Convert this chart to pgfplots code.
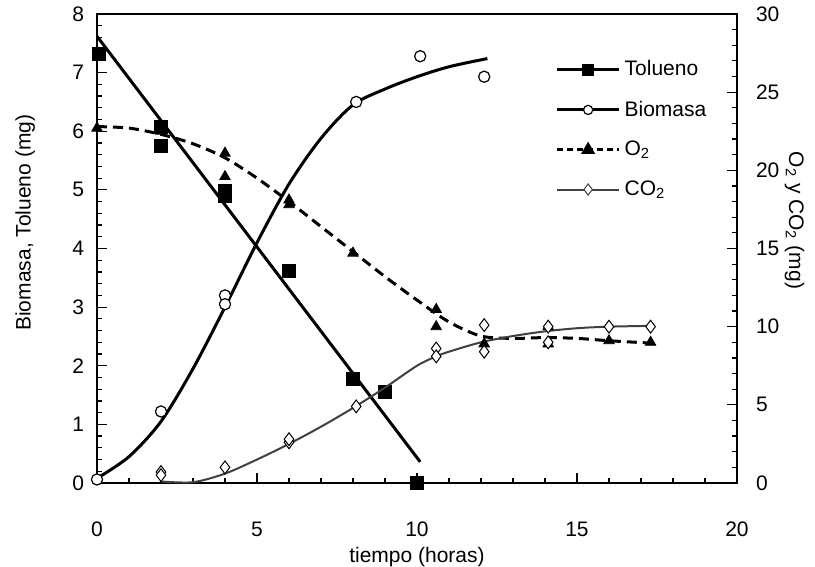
\documentclass[border=0pt]{standalone}
\usepackage{fontspec}
\setmainfont{Liberation Sans}
\usepackage{pgfplots}
\pgfplotsset{compat=1.18}
\begin{document}
\begin{tikzpicture}
\useasboundingbox (0,0) rectangle (407.5pt,283.5pt);
\pgfplotsset{
  every axis/.append style={font=\fontsize{10.5}{12}\selectfont},
  /pgf/number format/assume math mode=true,
  major tick length=5pt, minor tick length=2.5pt,
}
\begin{axis}[
  at={(48.5pt,42pt)}, anchor=south west,
  scale only axis, width=320pt, height=234.5pt,
  xmin=0, xmax=20, ymin=0, ymax=8,
  xtick={0,5,...,20}, minor x tick num=4,
  ytick={0,...,8}, minor y tick num=4,
  xtick pos=left, ytick pos=left,
  tick style={black, line width=0.6pt},
  xticklabel style={yshift=-16pt},
  yticklabel style={xshift=-3pt},
  ylabel={Biomasa, Tolueno (mg)},
  ylabel style={at={(axis description cs:-0.112,0.555)}, anchor=center},
  xlabel={tiempo (horas)},
  xlabel style={at={(axis description cs:0.5,-0.159)}, anchor=center},
  axis line style={line width=0.8pt},
  clip=false,
]
% Tolueno
\addplot[line width=1.5pt, black] coordinates {(0,7.62) (10.1,0.36)};
\addplot[only marks, mark=square*, mark size=3.2pt, black] coordinates {
(0.05,7.32) (2,6.07) (2,5.75) (4,4.98) (4,4.9) (6,3.62) (8,1.78) (9,1.55) (10,0)};
% Biomasa
\addplot[line width=1.5pt, black, smooth] coordinates {
(0,0.08) (1,0.45) (2,1.05) (3,1.95) (4,3.0) (5,4.1) (6,5.1) (7,5.88) (8,6.45) (9,6.72) (10,6.93) (11,7.1) (12.2,7.24)};
\addplot[only marks, mark=*, mark size=2.8pt, mark options={fill=white, draw=black, line width=0.6pt}] coordinates {
(0,0.06) (2,1.22) (4,3.2) (4,3.05) (8.1,6.5) (10.1,7.28) (12.1,6.93)};
\end{axis}
\begin{axis}[
  at={(48.5pt,42pt)}, anchor=south west,
  scale only axis, width=320pt, height=234.5pt,
  xmin=0, xmax=20, ymin=0, ymax=30,
  hide x axis,
  axis y line*=right,
  ytick={0,5,...,30}, minor y tick num=4,
  tick style={black, line width=0.6pt},
  axis line style={line width=0.8pt, -},
  yticklabel style={xshift=6pt},
  ylabel={O\textsubscript{2} y CO\textsubscript{2} (mg)},
  ylabel style={at={(axis description cs:1.09,0.56)}, anchor=center, rotate=180},
  clip=false,
  legend style={draw=none, fill=none, inner sep=0pt, at={(axis description cs:0.716,0.91)}, anchor=north west,
    font=\fontsize{10.5}{12}\selectfont, row sep=7pt,
    /tikz/every even column/.append style={column sep=1.5pt}},
  legend cell align=left,
  legend image code/.code={\draw[mark repeat=2,mark phase=2,#1] plot coordinates {(0pt,0pt) (15.5pt,0pt) (31pt,0pt)};},
]
\addlegendimage{line width=1.5pt, black, mark=square*, mark size=2.2pt, mark options={solid, fill=black}}
\addlegendentry{Tolueno}
\addlegendimage{line width=1.5pt, black, mark=*, mark size=2.3pt, mark options={solid, fill=white, draw=black, line width=0.6pt}}
\addlegendentry{Biomasa}
\addlegendimage{line width=1.5pt, black, dash pattern=on 3pt off 2pt, mark=triangle*, mark size=2.6pt, mark options={solid, fill=black}}
\addlegendentry{O\textsubscript{2}}
\addlegendimage{line width=1pt, black!75, mark=diamond*, mark size=2.8pt, mark options={solid, fill=white, draw=black!75, line width=0.5pt}}
\addlegendentry{CO\textsubscript{2}}
% O2
\addplot[forget plot, line width=1.5pt, black, dash pattern=on 5pt off 3pt, smooth] coordinates {
(0,22.8) (1,22.7) (2,22.3) (3,21.7) (4,20.8) (5,19.5) (6,18.0) (7,16.4) (8,14.8) (9,13.2) (10,11.7) (11,10.3) (12,9.4) (13,9.25) (14,9.3) (15,9.25) (16,9.1) (17.3,8.95)};
\addplot[forget plot, only marks, mark=triangle*, mark size=3pt, black] coordinates {
(0,22.7) (2,22.5) (4,21.1) (4,19.6) (6,18.1) (6,17.8) (8,14.7) (10.6,11.1) (10.6,10.0) (12.1,8.9) (14.1,10.0) (14.1,8.9) (16,9.1) (17.3,9.0)};
% CO2
\addplot[forget plot, line width=1pt, black!75, smooth] coordinates {
(2,0.1) (3,0.05) (4,0.6) (5,1.5) (6,2.5) (7,3.6) (8,4.8) (9,6.1) (10,7.5) (10.6,8.1) (11,8.4) (12,9.0) (13,9.4) (14,9.7) (15,9.9) (16,10.0) (17.3,10.05)};
\addplot[forget plot, only marks, mark=diamond*, mark size=3.2pt, mark options={fill=white, draw=black, line width=0.5pt}] coordinates {
(2,0.7) (2,0.5) (4,1.0) (6,2.6) (6,2.8) (8.1,4.9) (10.6,8.6) (10.6,8.1) (12.1,10.1) (12.1,8.4) (14.1,10.0) (14.1,9.0) (16,10.0) (17.3,10.0)};
\end{axis}
\end{tikzpicture}
\end{document}
